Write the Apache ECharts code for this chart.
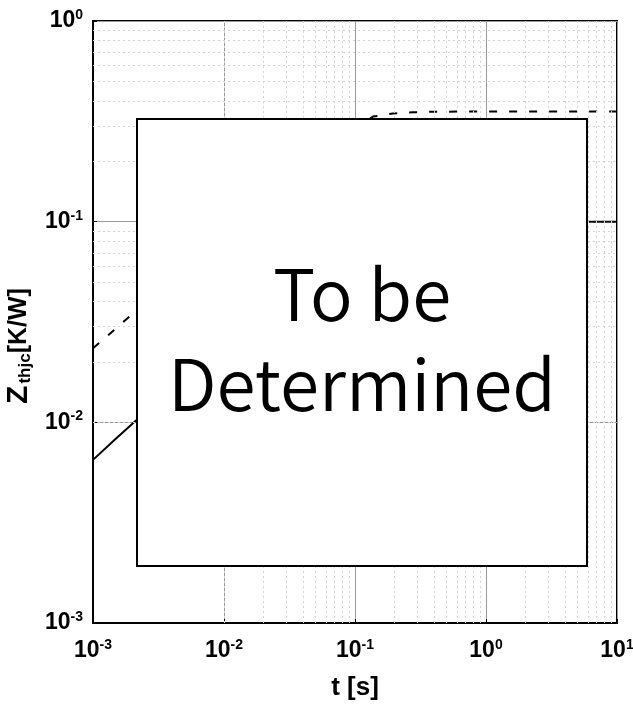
<!DOCTYPE html>
<html>
<head>
<meta charset="utf-8">
<script src="https://cdn.jsdelivr.net/npm/echarts@6/dist/echarts.min.js"></script>
<style>
html,body{margin:0;padding:0;background:#fff;}
#chart{width:633px;height:715px;}
</style>
</head>
<body>
<div id="chart"></div>
<script>
// ---- data ----
var timeSeconds = [0.001, 0.0015, 0.00213, 0.003, 0.005, 0.01, 0.02, 0.05, 0.1, 0.137, 0.195, 0.277, 0.4, 0.7, 1, 2, 5, 10];
var zthDashed   = [0.0234, 0.0294, 0.036, 0.044, 0.058, 0.084, 0.12, 0.2, 0.29, 0.334, 0.346, 0.351, 0.353, 0.354, 0.354, 0.354, 0.354, 0.354];
var zthSolid    = [0.0065, 0.0083, 0.0102, 0.0123, 0.0165, 0.025, 0.037, 0.058, 0.075, 0.082, 0.089, 0.094, 0.097, 0.099, 0.0995, 0.1, 0.1, 0.1];
var xTickValues = [0.001, 0.01, 0.1, 1, 10];
var yTickValues = [0.001, 0.01, 0.1, 1];
var minorMultipliers = [2, 3, 4, 5, 6, 7, 8, 9];
var overlayText = 'To be\nDetermined';
var xAxisName = 't [s]';

function pairs(xs, ys) {
  return xs.map(function (x, i) { return [x, ys[i]]; });
}
function minorLines(ticks, key) {
  var out = [];
  for (var i = 0; i < ticks.length - 1; i++) {
    minorMultipliers.forEach(function (m) {
      var o = {}; o[key] = ticks[i] * m; out.push(o);
    });
  }
  return out;
}
function powLabel(v) {
  var e = Math.round(Math.log10(v));
  return '{b|10}{s|' + e + '}';
}

var FONT = "'Liberation Sans', Arial, sans-serif";
var labelRich = {
  b: { fontSize: 23, fontWeight: 'bold', fontFamily: FONT, color: '#000', lineHeight: 26 },
  s: { fontSize: 14, fontWeight: 'bold', fontFamily: FONT, color: '#000', verticalAlign: 'top', lineHeight: 14 }
};

var chart = echarts.init(document.getElementById('chart'), null, { renderer: 'canvas' });
var option = {
  animation: false,
  backgroundColor: '#fff',
  grid: {
    left: 93, top: 21, right: 16, bottom: 92,
    outerBoundsMode: 'none', containLabel: false,
    show: true, borderColor: '#000', borderWidth: 2, backgroundColor: 'transparent'
  },
  xAxis: {
    type: 'log', logBase: 10,
    min: xTickValues[0], max: xTickValues[xTickValues.length - 1], interval: 1,
    name: xAxisName, nameLocation: 'middle', nameGap: 52,
    nameTextStyle: { fontSize: 26, fontWeight: 'bold', fontFamily: FONT, color: '#000' },
    axisLine: { show: true, lineStyle: { color: '#000', width: 2 } },
    axisTick: { show: true, inside: true, length: 4, lineStyle: { color: '#000' } },
    axisLabel: { formatter: powLabel, rich: labelRich, margin: 15, showMinLabel: true, showMaxLabel: true },
    splitLine: { show: true, lineStyle: { color: '#999', width: 1 } }
  },
  yAxis: {
    type: 'log', logBase: 10,
    min: yTickValues[0], max: yTickValues[yTickValues.length - 1], interval: 1,
    name: '{z|Z}{sub|thjc}{k|[K/W]}', nameLocation: 'middle', nameGap: 56, nameRotate: 90,
    nameTextStyle: {
      padding: [0, 48, 0, 0],
      rich: {
        z: { fontSize: 30, fontWeight: 'bold', fontFamily: FONT, color: '#000', padding: [0, 2, 0, 0] },
        sub: { fontSize: 17, fontWeight: 'bold', fontFamily: FONT, color: '#000', verticalAlign: 'bottom' },
        k: { fontSize: 25, fontWeight: 'bold', fontFamily: FONT, color: '#000' }
      }
    },
    axisLine: { show: true, lineStyle: { color: '#000', width: 2 } },
    axisTick: { show: true, inside: true, length: 4, lineStyle: { color: '#000' } },
    axisLabel: { formatter: powLabel, rich: labelRich, margin: 10, showMinLabel: true, showMaxLabel: true },
    splitLine: { show: true, lineStyle: { color: '#999', width: 1 } }
  },
  series: [
    {
      name: 'minor grid', type: 'line', z: 1, silent: true,
      data: [[xTickValues[0], yTickValues[0]]], symbol: 'none', lineStyle: { opacity: 0 },
      markLine: {
        silent: true, symbol: ['none', 'none'], animation: false,
        label: { show: false },
        lineStyle: { type: [2, 3], color: '#d4d4d4', width: 1 },
        emphasis: { disabled: true },
        data: minorLines(xTickValues, 'xAxis').concat(minorLines(yTickValues, 'yAxis'))
      }
    },
    {
      name: 'dashed', type: 'line', z: 3, symbol: 'none', smooth: false,
      data: pairs(timeSeconds, zthDashed),
      lineStyle: { color: '#000', width: 2, type: [8, 12] }
    },
    {
      name: 'solid', type: 'line', z: 3, symbol: 'none', smooth: false,
      data: pairs(timeSeconds, zthSolid),
      lineStyle: { color: '#000', width: 2, type: 'solid' }
    }
  ],
  graphic: [
    {
      type: 'group', left: 136, top: 118, z: 100, zlevel: 1,
      children: [
        { type: 'rect', z: 100, zlevel: 1, shape: { x: 0, y: 0, width: 450, height: 447 },
          style: { fill: '#ffffff', stroke: '#000', lineWidth: 2 } },
        { type: 'text', z: 101, zlevel: 1, x: 225, y: 220,
          style: { text: overlayText, fill: '#000', font: "350 71px 'Noto Sans CJK KR', 'Noto Sans', sans-serif",
                   align: 'center', verticalAlign: 'middle', lineHeight: 90 } }
      ]
    }
  ]
};
chart.setOption(option);
</script>
</body>
</html>
